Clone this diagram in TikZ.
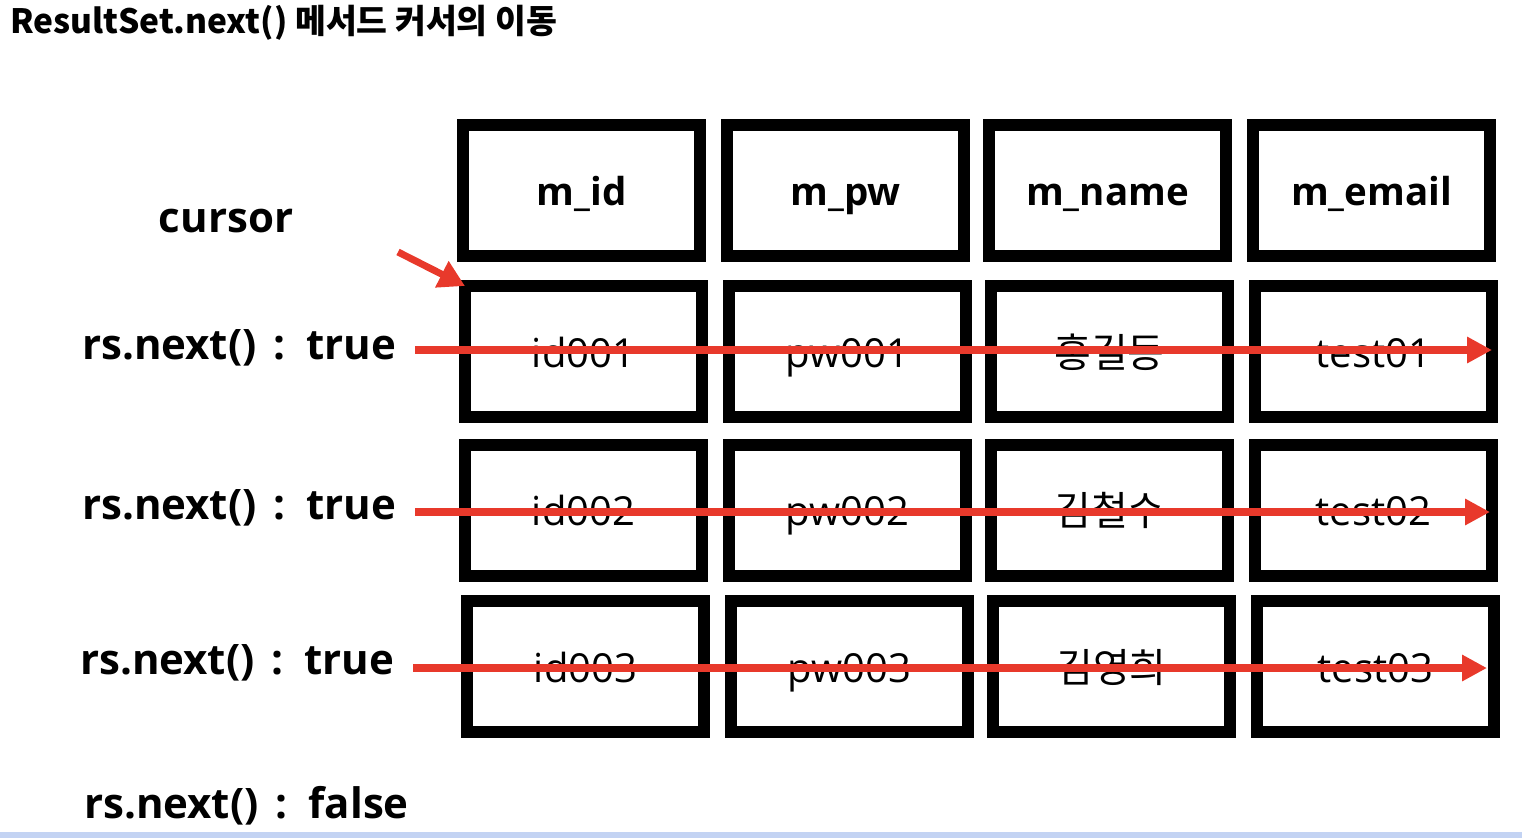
\documentclass[tikz,border=0pt]{standalone}
\usepackage{fontspec}
\setmainfont{Open Sans}
\newfontfamily\kr{Noto Sans CJK KR}
\usetikzlibrary{arrows.meta}
\definecolor{arrred}{HTML}{E8392B}
\definecolor{barblue}{HTML}{C3D3F3}
\newcommand{\rsn}[1]{rs.next()\hspace{17pt}:\hspace{21pt}#1}
\begin{document}
\begin{tikzpicture}[x=1pt,y=-1pt,
  cell/.style={draw=black,line width=12pt,minimum width=237pt,minimum height=131pt,inner sep=0pt,outer sep=0pt,text height=31pt,text depth=0pt,font=\fontsize{40}{44}\selectfont},
  headcell/.style={cell,font=\fontsize{38.5}{44}\selectfont\bfseries},
  lbl/.style={font=\fontsize{42}{46}\selectfont\bfseries,inner sep=0pt},
  rowarrow/.style={draw=arrred,line width=8pt,-{Triangle[length=25pt,width=25pt]}},
  curarrow/.style={draw=arrred,line width=7pt,-{Triangle[length=26pt,width=28pt]}}]
\useasboundingbox (0,0) rectangle (1522,838);
\fill[barblue] (0,832) rectangle (1522,838);
\node[anchor=west,inner sep=0pt,font=\kr\fontsize{33.5}{38}\selectfont\bfseries] (title) at (10,23) {ResultSet.next() 메서드 커서의 이동};
% header
\node[headcell] (h1) at (581.5,190) {m\_id};
\node[headcell] (h2) at (845.5,190) {m\_pw};
\node[headcell] (h3) at (1107.5,190) {m\_name};
\node[headcell] (h4) at (1371.5,190) {m\_email};
% row 1
\node[cell] (a1) at (583.5,351.5) {id001};
\node[cell] (a2) at (847.5,351.5) {pw001};
\node[cell] (a3) at (1109.5,351.5) {\kr 홍길동};
\node[cell] (a4) at (1373.5,351.5) {test01};
% row 2
\node[cell] (b1) at (583.5,510) {id002};
\node[cell] (b2) at (847.5,510) {pw002};
\node[cell] (b3) at (1109.5,510) {\kr 김철수};
\node[cell] (b4) at (1373.5,510) {test02};
% row 3
\node[cell] (c1) at (585.5,666.5) {id003};
\node[cell] (c2) at (849.5,666.5) {pw003};
\node[cell] (c3) at (1111.5,666.5) {\kr 김영희};
\node[cell] (c4) at (1375.5,666.5) {test03};
% labels
\node[lbl] (cur) at (226,221) {cursor};
\node[lbl,anchor=west] (l1) at (82,348) {\rsn{true}};
\node[lbl,anchor=west] (l2) at (82,508) {\rsn{true}};
\node[lbl,anchor=west] (l3) at (80,663) {\rsn{true}};
\node[lbl,anchor=west] (l4) at (84,806) {\rsn{false}};
% arrows
\coordinate (s1) at (415,350);
\coordinate (e1) at (1492,350);
\coordinate (s2) at (415,512);
\coordinate (e2) at (1490,512);
\coordinate (s3) at (413,668);
\coordinate (e3) at (1487,668);
\coordinate (ct) at (398,252);
\draw[rowarrow] (s1) -- (e1);
\draw[rowarrow] (s2) -- (e2);
\draw[rowarrow] (s3) -- (e3);
\draw[curarrow] (ct) -- (a1.north west);
\end{tikzpicture}
\end{document}
